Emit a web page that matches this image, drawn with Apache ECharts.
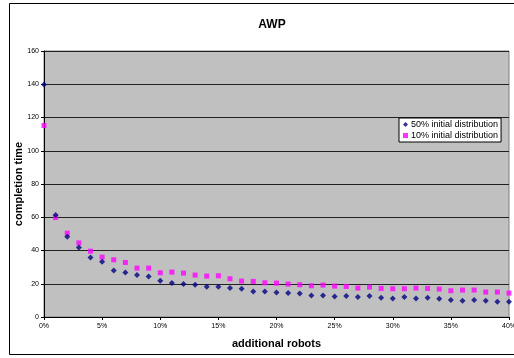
<!DOCTYPE html>
<html><head><meta charset="utf-8">
<script src="https://cdn.jsdelivr.net/npm/echarts@6/dist/echarts.min.js"></script>
<style>html,body{margin:0;padding:0;background:#fff}#c{width:514px;height:358px}</style>
</head><body><div id="c"></div>
<script>
var xPercents = [0,1,2,3,4,5,6,7,8,9,10,11,12,13,14,15,16,17,18,19,20,21,22,23,24,25,26,27,28,29,30,31,32,33,34,35,36,37,38,39,40];
var series50 = [139.8,61.4,48.2,41.8,35.8,33.2,28,26.8,25.2,24.4,21.8,20.4,19.8,19.4,18.2,18.2,17.4,17,15.4,15.4,14.8,14.4,14.2,13,13,12.4,12.6,12,12.6,11.6,11.2,12,11.2,11.6,11,10.2,9.8,10.2,9.8,9.2,9.2];
var series10 = [115.2,59.8,50.4,44.6,39.6,36,34.4,32.8,29.4,29.4,26.6,27,26.4,25.2,24.6,24.8,23,21.6,21.4,20.6,20.4,19.8,19.4,18.8,19.2,18.6,18.4,17.4,18,17.2,17,17,17.4,17.2,16.8,15.8,16.2,16.2,15,15,14.4];
var seriesNames = ['50% initial distribution','10% initial distribution'];
var yTicks = {min:0, max:160, interval:20};
var xTicks = {min:0, max:40, interval:5};

function pairs(xs, ys){ return xs.map(function(x,i){return [x, ys[i]];}); }
var F = 'Liberation Sans, Arial, sans-serif';
var chart = echarts.init(document.getElementById('c'), null, {renderer:'canvas'});
chart.setOption({
  animation:false,
  backgroundColor:'#fff',
  title:{text:'AWP', top:14, left:267, textAlign:'center',
    textStyle:{fontFamily:F, fontSize:12, fontWeight:'bold', color:'#000'}},
  grid:{left:44, right:5, top:51, bottom:41, outerBoundsMode:'none', containLabel:false,
    show:true, backgroundColor:'#C0C0C0', borderColor:'#808080', borderWidth:1},
  legend:{orient:'vertical', left:399, top:118, backgroundColor:'#fff', borderColor:'#000', borderWidth:1,
    padding:[2,3,2,4], itemGap:2, itemWidth:5, itemHeight:5,
    textStyle:{fontFamily:F, fontSize:9, color:'#000', padding:[0,0,0,-2]},
    data:[{name:seriesNames[0], icon:'diamond'},{name:seriesNames[1], icon:'rect'}]},
  xAxis:{type:'value', min:xTicks.min, max:xTicks.max, interval:xTicks.interval,
    name:'additional robots', nameLocation:'middle', nameGap:21, nameMoveOverlap:false,
    nameTextStyle:{fontFamily:F, fontSize:11, fontWeight:'bold', color:'#000'},
    axisLine:{show:true, onZero:false, lineStyle:{color:'#000', width:1}},
    axisTick:{show:true, inside:false, length:3, lineStyle:{color:'#000'}},
    axisLabel:{formatter:'{value}%', fontFamily:F, fontSize:7, color:'#000', margin:6, hideOverlap:false},
    splitLine:{show:false}},
  yAxis:{type:'value', min:yTicks.min, max:yTicks.max, interval:yTicks.interval,
    name:'completion time', nameLocation:'middle', nameGap:20, nameMoveOverlap:false,
    nameTextStyle:{fontFamily:F, fontSize:11, fontWeight:'bold', color:'#000'},
    axisLine:{show:true, onZero:false, lineStyle:{color:'#000', width:1}},
    axisTick:{show:true, length:3, lineStyle:{color:'#000'}},
    axisLabel:{fontFamily:F, fontSize:7, color:'#000', margin:5},
    splitLine:{show:true, lineStyle:{color:'#222', width:1}}},
  graphic:[{type:'rect', shape:{x:9.5, y:3.5, width:520, height:351}, style:{fill:null, stroke:'#000', lineWidth:1}, silent:true}],
  series:[
    {name:seriesNames[0], type:'scatter', symbol:'diamond', symbolSize:6, itemStyle:{color:'#000080'}, data:pairs(xPercents, series50), z:3},
    {name:seriesNames[1], type:'scatter', symbol:'rect', symbolSize:5, itemStyle:{color:'#FF00FF'}, data:pairs(xPercents, series10), z:2}
  ]
});
</script></body></html>
